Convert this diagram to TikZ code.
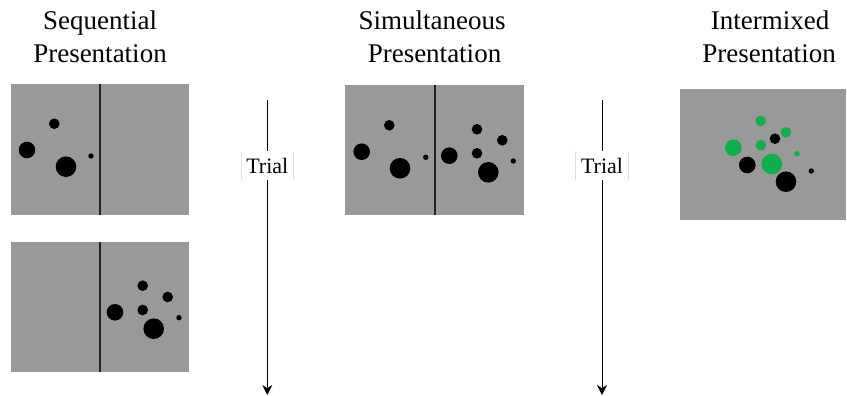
\documentclass[tikz,border=0pt]{standalone}
\usepackage{fontspec}
\setmainfont{Liberation Serif}
\usetikzlibrary{arrows.meta}
\definecolor{panelgray}{HTML}{999999}
\definecolor{dotgreen}{HTML}{0DB04B}
\definecolor{divider}{HTML}{222222}
\tikzset{
  panel/.style={fill=panelgray, draw=none},
  divline/.style={draw=divider, line width=1.8pt},
  dot/.style={fill=black},
  gdot/.style={fill=dotgreen},
  title/.style={align=center, font=\fontsize{27}{33}\selectfont, inner sep=0pt, anchor=base},
  triallabel/.style={fill=white, minimum width=52pt, minimum height=28pt, inner sep=0pt, font=\fontsize{22}{24}\selectfont},
  trialarrow/.style={draw=black, line width=1pt},
  trialtip/.style={-{Stealth[length=10pt, width=10pt]}},
  boxedge/.style={draw=black!12, line width=0.8pt}
}
\begin{document}
\begin{tikzpicture}[x=1pt, y=-1pt]
\useasboundingbox (0,0) rectangle (847,396);
\fill[white] (0,0) rectangle (847,396);

% Titles
\node[title] (t1a) at (100,30) {Sequential};
\node[title] (t1b) at (100,63) {Presentation};
\node[title] (t2a) at (432,30) {Simultaneous};
\node[title] (t2b) at (434.5,63) {Presentation};
\node[title] (t3a) at (770,30) {Intermixed};
\node[title] (t3b) at (769,63) {Presentation};

% Panel 1 (sequential, first frame)
\path[panel] (11,84) rectangle (189,215);
\draw[divline] (100,84) -- (100,215);
\fill[dot] (54.3,123.7) circle (5.3);
\fill[dot] (27,150) circle (8.3);
\fill[dot] (66,166.7) circle (10.3);
\fill[dot] (91,156) circle (2.7);

% Panel 2 (sequential, second frame)
\path[panel] (11,242.3) rectangle (189,372.3);
\draw[divline] (100,242.3) -- (100,372.3);
\fill[dot] (142.7,285.7) circle (5.3);
\fill[dot] (167.7,297) circle (5.3);
\fill[dot] (115,312.3) circle (8.3);
\fill[dot] (142.7,310) circle (5.3);
\fill[dot] (179,317.7) circle (2.7);
\fill[dot] (153.7,328.7) circle (10.3);

% Panel 3 (simultaneous)
\path[panel] (345,85) rectangle (524.3,215);
\draw[divline] (435,85) -- (435,215);
\fill[dot] (389.3,125.3) circle (5.3);
\fill[dot] (361.7,151.7) circle (8.3);
\fill[dot] (400,168.3) circle (10.3);
\fill[dot] (425.7,157.3) circle (2.7);
\fill[dot] (477,129.3) circle (5.3);
\fill[dot] (502.3,140.3) circle (5.3);
\fill[dot] (449.3,155.7) circle (8.3);
\fill[dot] (477,153.3) circle (5.3);
\fill[dot] (513.3,161) circle (2.7);
\fill[dot] (488.3,172.3) circle (10.3);

% Panel 4 (intermixed)
\path[panel] (680,89) rectangle (845.7,220);
\fill[gdot] (760.7,121) circle (5.3);
\fill[gdot] (786,132.3) circle (5.3);
\fill[dot] (775,138.7) circle (5.3);
\fill[gdot] (733.3,147.7) circle (8.3);
\fill[gdot] (760.7,145.3) circle (5.3);
\fill[gdot] (797,153.7) circle (2.7);
\fill[dot] (747.3,165) circle (8.3);
\fill[gdot] (771.7,164) circle (10.3);
\fill[dot] (811.3,171) circle (2.7);
\fill[dot] (786,181.7) circle (10.3);

% Trial arrow 1
\coordinate (a1top) at (267.3,100);
\coordinate (a1bot) at (267.3,395);
\node[triallabel] (trial1) at (267.3,165.5) {Trial};
\draw[boxedge] (trial1.north west) -- (trial1.south west);
\draw[boxedge] (trial1.north east) -- (trial1.south east);
\draw[trialarrow] (a1top) -- (trial1.north);
\draw[trialarrow, trialtip] (trial1.south) -- (a1bot);

% Trial arrow 2
\coordinate (a2top) at (602,100);
\coordinate (a2bot) at (602,395);
\node[triallabel] (trial2) at (602,165.5) {Trial};
\draw[boxedge] (trial2.north west) -- (trial2.south west);
\draw[boxedge] (trial2.north east) -- (trial2.south east);
\draw[trialarrow] (a2top) -- (trial2.north);
\draw[trialarrow, trialtip] (trial2.south) -- (a2bot);
\end{tikzpicture}
\end{document}
